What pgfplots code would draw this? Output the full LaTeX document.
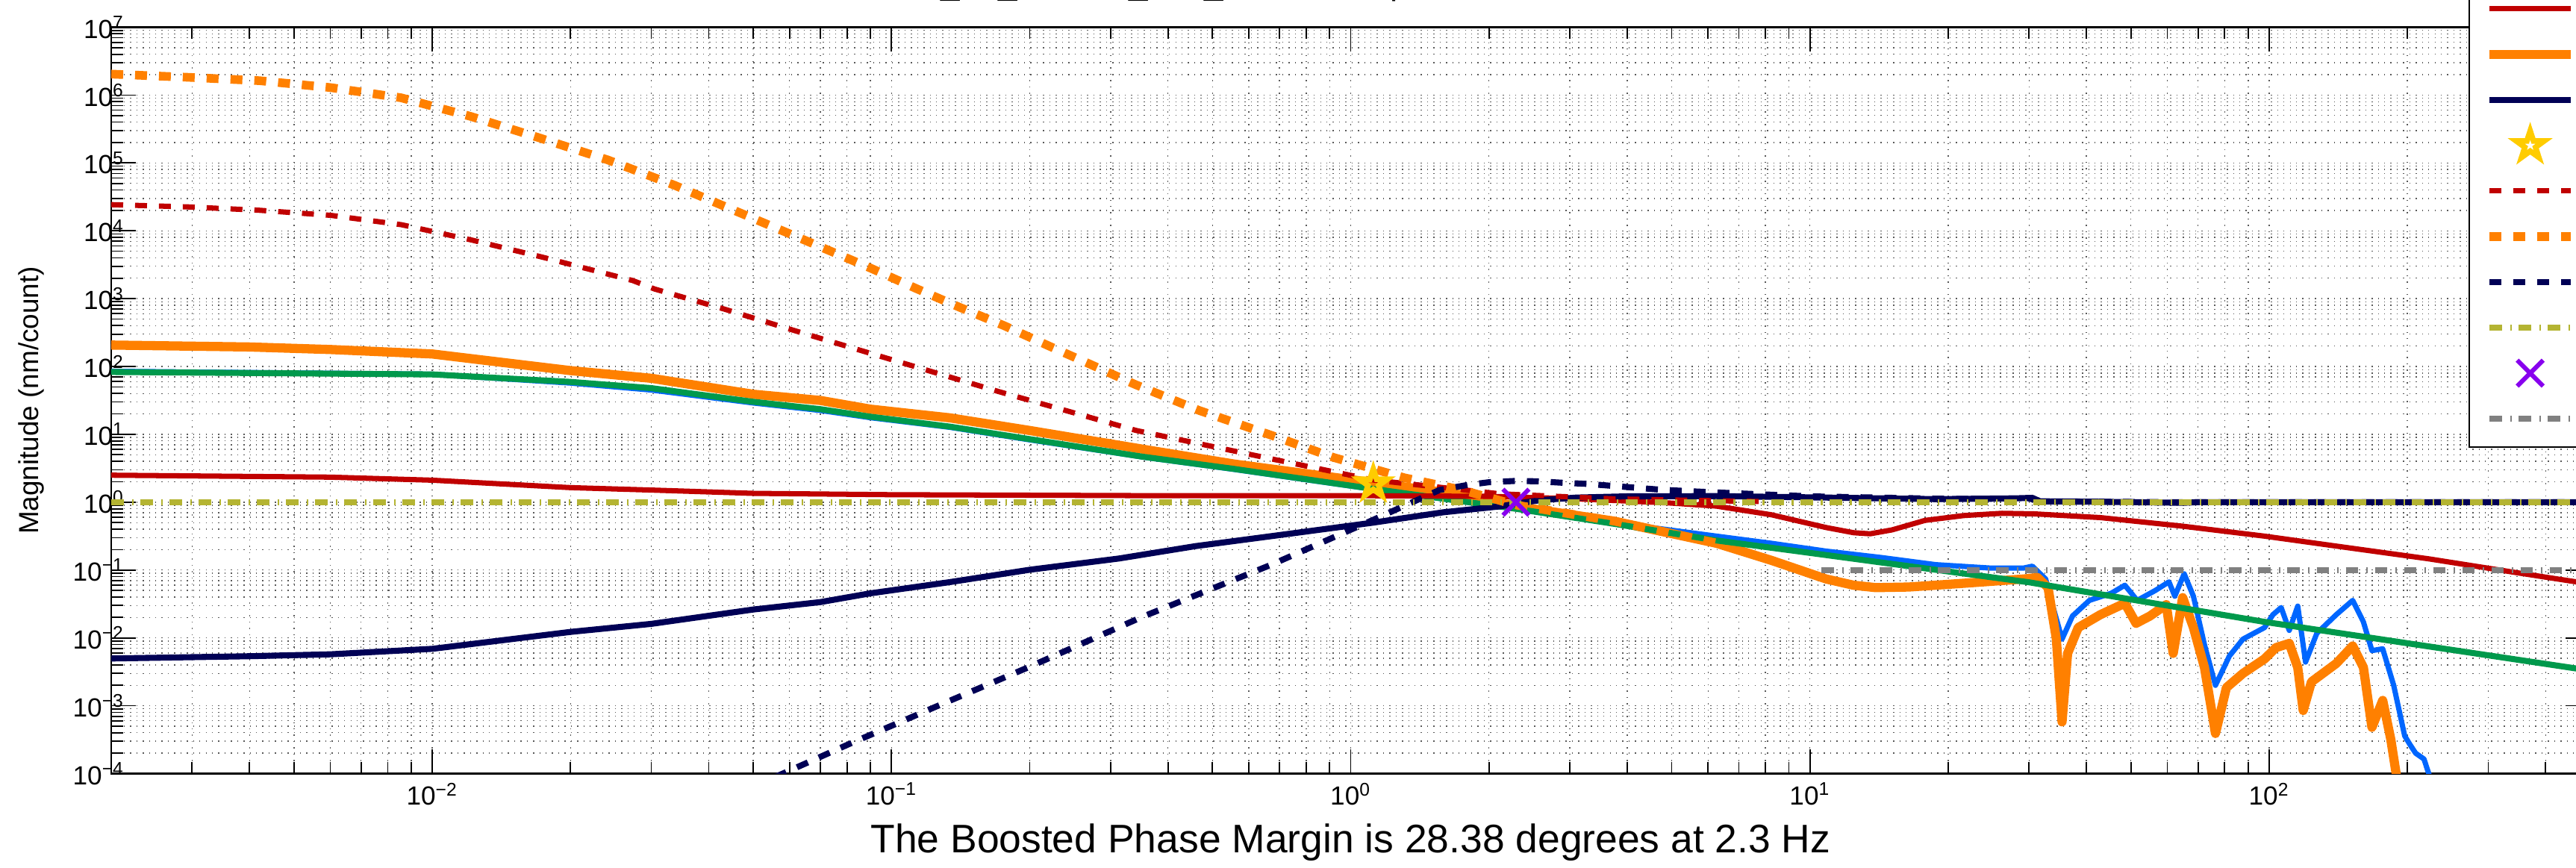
\documentclass[border=0pt]{standalone}
\usepackage{fontspec}
\setmainfont{Liberation Sans}
\usepackage{pgfplots}
\pgfplotsset{compat=1.18}

\definecolor{cRed}{HTML}{C00000}
\definecolor{cOrange}{HTML}{FF8000}
\definecolor{cNavy}{HTML}{000055}
\definecolor{cGreen}{HTML}{00994C}
\definecolor{cBlue}{HTML}{0066FF}
\definecolor{cOlive}{HTML}{B4B432}
\definecolor{cGrey}{HTML}{808080}
\definecolor{cGold}{HTML}{FFCC00}
\definecolor{cPurple}{HTML}{8800EE}

% pentagram with a hole in the middle (matlab 'p' marker, thick edge)
\pgfdeclareplotmark{hstar}{%
  \pgfpathmoveto{\pgfpointpolar{90}{9pt}}%
  \pgfpathlineto{\pgfpointpolar{126}{3.44pt}}%
  \pgfpathlineto{\pgfpointpolar{162}{9pt}}%
  \pgfpathlineto{\pgfpointpolar{198}{3.44pt}}%
  \pgfpathlineto{\pgfpointpolar{234}{9pt}}%
  \pgfpathlineto{\pgfpointpolar{270}{3.44pt}}%
  \pgfpathlineto{\pgfpointpolar{306}{9pt}}%
  \pgfpathlineto{\pgfpointpolar{342}{3.44pt}}%
  \pgfpathlineto{\pgfpointpolar{18}{9pt}}%
  \pgfpathlineto{\pgfpointpolar{54}{3.44pt}}%
  \pgfpathclose
  \pgfpathmoveto{\pgfpointpolar{90}{2.2pt}}%
  \pgfpathlineto{\pgfpointpolar{126}{0.84pt}}%
  \pgfpathlineto{\pgfpointpolar{162}{2.2pt}}%
  \pgfpathlineto{\pgfpointpolar{198}{0.84pt}}%
  \pgfpathlineto{\pgfpointpolar{234}{2.2pt}}%
  \pgfpathlineto{\pgfpointpolar{270}{0.84pt}}%
  \pgfpathlineto{\pgfpointpolar{306}{2.2pt}}%
  \pgfpathlineto{\pgfpointpolar{342}{0.84pt}}%
  \pgfpathlineto{\pgfpointpolar{18}{2.2pt}}%
  \pgfpathlineto{\pgfpointpolar{54}{0.84pt}}%
  \pgfpathclose
  \pgfseteorule
  \pgfusepathqfill
}

\newcommand\decade[1]{\pgfmathtruncatemacro\ee{round(#1)}10\textsuperscript{\ifnum\ee<0 −\number-\ee\else\ee\fi}}

\pgfplotsset{
  dashd/.style={dash pattern=on 4.55pt off 4.55pt},
  dashdot/.style={dash pattern=on 4.8pt off 3.1pt on 0.6pt off 2.6pt},
  markleg/.style={legend image code/.code={\path[draw=none,fill=none] (0cm,-0.16cm) rectangle (1.09cm,0.16cm);
      \draw[##1,overlay] plot coordinates {(0.545cm,0cm)};}},
}

\begin{document}
\begin{tikzpicture}
\path[use as bounding box, clip] (0,0) rectangle (34.51cm,11.62cm);
\begin{axis}[
  at={(1.49cm,1.255cm)}, anchor=south west,
  scale only axis, width=33.21cm, height=10cm,
  xmode=log, ymode=log, log basis x=10, log basis y=10,
  xmin=0.002, xmax=500, ymin=1e-4, ymax=1e7,
  xtick={0.01,0.1,1,10,100},
  minor xtick={0.003,0.004,0.005,0.006,0.007,0.008,0.009,
    0.02,0.03,0.04,0.05,0.06,0.07,0.08,0.09,
    0.2,0.3,0.4,0.5,0.6,0.7,0.8,0.9,
    2,3,4,5,6,7,8,9,20,30,40,50,60,70,80,90,200,300,400},
  ytick={1e-4,1e-3,0.01,0.1,1,10,100,1e3,1e4,1e5,1e6,1e7},
  minor ytick={2e-4,3e-4,4e-4,5e-4,6e-4,7e-4,8e-4,9e-4,
    2e-3,3e-3,4e-3,5e-3,6e-3,7e-3,8e-3,9e-3,
    0.02,0.03,0.04,0.05,0.06,0.07,0.08,0.09,
    0.2,0.3,0.4,0.5,0.6,0.7,0.8,0.9,
    2,3,4,5,6,7,8,9,20,30,40,50,60,70,80,90,
    200,300,400,500,600,700,800,900,
    2e3,3e3,4e3,5e3,6e3,7e3,8e3,9e3,
    2e4,3e4,4e4,5e4,6e4,7e4,8e4,9e4,
    2e5,3e5,4e5,5e5,6e5,7e5,8e5,9e5,
    2e6,3e6,4e6,5e6,6e6,7e6,8e6,9e6},
  xticklabel={\decade{\tick}}, yticklabel={\decade{\tick}},
  tick label style={font=\fontsize{10}{12}\selectfont},
  yticklabel style={xshift=0.3cm},
  grid=both,
  major grid style={black!65, line width=0.4pt, dash pattern=on 0.4pt off 2pt},
  minor grid style={black!65, line width=0.4pt, dash pattern=on 0.4pt off 2pt},
  tick align=inside, major tick length=0.33cm, minor tick length=0.16cm,
  tick style={black, line width=0.5pt},
  axis line style={line width=0.6pt},
  title={2013\_05\_04 - H1\_HPI\_HAM2 - Super Sensor - RX Control Lvl 1},
  title style={at={(axis description cs:0.5,1.0226)}, anchor=base, inner sep=0pt, font=\fontsize{13}{15}\selectfont},
  xlabel={The Boosted Phase Margin is 28.38 degrees at 2.3 Hz},
  xlabel style={at={(axis description cs:0.5,-0.1055)}, anchor=base, inner sep=0pt, font=\fontsize{15.2}{18}\selectfont},
  ylabel={Magnitude (nm/count)},
  ylabel style={at={(axis description cs:-0.02921,0.5)}, anchor=base, inner sep=0pt, font=\fontsize{10.5}{12}\selectfont},
  legend image code/.code={\path[draw=none,fill=none] (0cm,-0.16cm) rectangle (1.09cm,0.16cm);
      \draw[#1] (0cm,0cm) -- (1.09cm,0cm);},
  legend cell align=left,
  legend style={at={(axis description cs:0.9509,0.4365)}, anchor=south west,
    draw=black, line width=0.6pt, fill=white, inner xsep=0.21cm, inner ysep=0.22cm,
    row sep=0.29cm, column sep=0.11cm, font=\fontsize{10}{12}\selectfont,
    nodes={inner sep=0pt, text height=0.25cm, text depth=0.07cm}},
  every axis plot/.append style={line join=round},
]

% blue (measured)
\addplot[forget plot, cBlue, line width=2pt] coordinates {
(0.002,85) (0.01,77) (0.02,57) (0.03,45) (0.05,29) (0.07,22.5) (0.09,17.6) (0.134,12.7)
(0.2,8.3) (0.351,4.65) (0.556,3.05) (1.12,1.55) (2.29,0.8) (3.75,0.5) (6.26,0.316)
(8.24,0.248) (10.85,0.19) (14.3,0.153) (18.8,0.12) (24.7,0.107) (29.2,0.107) (30.5,0.114)
(32.6,0.074) (34,0.0254) (35.4,0.0096) (37.3,0.021) (40.6,0.0357) (45.3,0.0455) (48.5,0.0597)
(51.6,0.0357) (56.5,0.05) (60.5,0.067) (62.3,0.0412) (65.3,0.088) (68.4,0.0412) (72.3,0.0079)
(76.4,0.002) (81.9,0.0054) (87.7,0.0096) (97.7,0.0142) (101.9,0.022) (106.2,0.028) (110.6,0.0129)
(115.4,0.0294) (120,0.0044) (127,0.0117) (140,0.022) (152,0.0357) (160.4,0.0172) (167.4,0.0065)
(176.7,0.0069) (186.7,0.002) (197.3,3.6e-4) (202.4,2.7e-4) (208.4,2.0e-4) (217.3,1.64e-4)
(223,9.6e-5) (228,5e-5)};

% orange solid
\addplot[forget plot, cOrange, line width=3.5pt] coordinates {
(0.002,207) (0.004,194) (0.006,178) (0.01,153) (0.02,87) (0.03,67) (0.05,39) (0.07,31.6)
(0.09,23.5) (0.134,17.5) (0.2,11.4) (0.351,6.07) (0.556,3.66) (1.12,1.94) (1.75,1.28)
(2.29,0.87) (3.75,0.525) (6.26,0.248) (8.24,0.139) (10.85,0.0738) (12.45,0.0597) (13.9,0.0551)
(16.4,0.0562) (21.6,0.0638) (29.2,0.0738) (31.3,0.0775) (33,0.0551) (34.4,0.0097) (35.4,5.8e-4)
(36.4,0.0059) (38.4,0.0142) (42.9,0.022) (48.5,0.0324) (51.3,0.0164) (55,0.021) (59.7,0.0309)
(61.8,0.0059) (64.8,0.0393) (68.4,0.0142) (72.3,0.00366) (76.4,3.9e-4) (80.7,0.00185)
(87.7,0.003) (97.7,0.0049) (103.5,0.0072) (110.6,0.0083) (115.4,0.00366) (118.6,8.5e-4)
(123.6,0.00225) (140,0.0042) (152,0.0076) (160.4,0.00366) (167.4,4.8e-4) (176.7,0.0012)
(184,3.2e-4) (189,1e-4) (193,5e-5)};

% green
\addplot[forget plot, cGreen, line width=2.3pt] coordinates {
(0.002,83) (0.01,76.5) (0.02,59.3) (0.03,48) (0.05,30.2) (0.07,23.5) (0.09,18.2) (0.134,13)
(0.2,8.5) (0.351,4.7) (0.556,3.1) (1.12,1.57) (2.29,0.8) (3.75,0.48) (6.26,0.273) (10,0.179)
(30,0.066) (97.8,0.0172) (500,0.0033)};

% red solid
\addplot[forget plot, cRed, line width=2pt] coordinates {
(0.002,2.5) (0.006,2.34) (0.01,2.11) (0.02,1.64) (0.03,1.51) (0.05,1.35) (0.1,1.29) (0.35,1.25)
(1,1.25) (2,1.22) (3,1.13) (4,1.04) (5,0.97) (6.26,0.875) (8.24,0.653) (10.85,0.423)
(12.45,0.355) (13.52,0.342) (15.1,0.391) (17.8,0.539) (21.6,0.635) (26.2,0.686) (30.8,0.673)
(42.9,0.593) (64.8,0.443) (97.7,0.316) (148,0.214) (223,0.146) (337,0.094) (466,0.067) (500,0.062)};

% navy solid
\addplot[forget plot, cNavy, line width=2.3pt] coordinates {
(0.002,0.00497) (0.004,0.00537) (0.006,0.00573) (0.01,0.0069) (0.02,0.01225) (0.03,0.0161)
(0.05,0.0262) (0.07,0.0337) (0.09,0.0454) (0.134,0.0664) (0.2,0.101) (0.313,0.148) (0.459,0.225)
(0.672,0.316) (1.12,0.50) (1.59,0.71) (2.12,0.87) (2.29,0.95) (2.58,1.07) (3.1,1.17) (4,1.22)
(6.26,1.23) (10.85,1.17) (18.8,1.11) (28,1.14) (30.5,1.16) (31.7,1.03) (40,1.02) (64.8,0.98)
(70,1.0) (500,1.0)};

% red dashed
\addplot[forget plot, cRed, line width=2pt, dashd] coordinates {
(0.002,24300) (0.00294,22500) (0.00419,20100) (0.00601,16900) (0.00857,12300) (0.01219,7310)
(0.0173,4120) (0.0245,2240) (0.02735,1845) (0.0305,1387) (0.0433,700) (0.061,344) (0.0861,171)
(0.1219,84.7) (0.1718,42.4) (0.2427,21.9) (0.3412,11.4) (0.673,4.34) (1.122,2.12) (2.11,1.33)
(3.75,1.12) (6.26,1.05) (8,1.02)};

% orange dashed
\addplot[forget plot, cOrange, line width=3.3pt, dashd] coordinates {
(0.002,2.04e6) (0.00294,1.83e6) (0.00421,1.63e6) (0.00601,1.29e6) (0.00855,9.14e5)
(0.01213,4.85e5) (0.01702,2.37e5) (0.0241,1.11e5) (0.0337,4.69e4) (0.0467,1.85e4)
(0.0652,7130) (0.0906,2770) (0.1132,1410) (0.1406,748) (0.1762,398) (0.2198,202)
(0.2716,107) (0.3388,54.6) (0.4677,22.5) (0.6714,9.7) (0.914,4.6) (1.309,2.29) (1.75,1.51)
(2.29,0.91) (3.75,0.525) (6.26,0.25)};

% navy dashed
\addplot[forget plot, cNavy, line width=2.3pt, dashd] coordinates {
(0.05,6.5e-5) (0.058,1e-4) (0.081,2.74e-4) (0.125,9.7e-4) (0.2,3.76e-3) (0.351,0.0203)
(0.672,0.12) (1.12,0.55) (1.56,1.51) (1.8,1.8) (2.0,1.97) (2.29,2.06) (2.56,2.03) (2.87,1.94)
(3.28,1.86) (4.72,1.53) (5.5,1.45) (6.3,1.39) (10,1.22) (20,1.12) (30,1.13) (32,1.03)
(60,1.0) (500,1.0)};

% olive unity line
\addplot[forget plot, cOlive, line width=2.3pt, dashdot] coordinates {(0.002,1) (500,1)};

% grey 0.1 line
\addplot[forget plot, cGrey, line width=2.3pt, dashdot] coordinates {(10.6,0.1) (500,0.1)};

% star and cross
\addplot[forget plot, only marks, mark=hstar, color=cGold] coordinates {(1.12,1.87)};
\addplot[forget plot, only marks, mark=x, mark size=7pt, color=cPurple, line width=1.7pt] coordinates {(2.29,1.0)};

\addlegendimage{cRed, line width=2pt}
\addlegendentry{Boost Filter}
\addlegendimage{cOrange, line width=3.5pt}
\addlegendentry{Open Loop Gain}
\addlegendimage{cNavy, line width=2.3pt}
\addlegendentry{Sensitivity}
\addlegendimage{only marks, mark=hstar, color=cGold, markleg}
\addlegendentry{Open Loop UGF}
\addlegendimage{cRed, line width=2pt, dashd}
\addlegendentry{Boosted Blend}
\addlegendimage{cOrange, line width=3.3pt, dashd}
\addlegendentry{Boosted Open Loop Gain}
\addlegendimage{cNavy, line width=2.3pt, dashd}
\addlegendentry{Boosted Sensitivity}
\addlegendimage{cOlive, line width=2.3pt, dashdot}
\addlegendentry{Threshold}
\addlegendimage{only marks, mark=x, mark size=7pt, color=cPurple, line width=1.7pt, markleg}
\addlegendentry{UGF (Boosted)}
\addlegendimage{cGrey, line width=2.3pt, dashdot}
\addlegendentry{Jitter Limit}
\end{axis}
\end{tikzpicture}
\end{document}
